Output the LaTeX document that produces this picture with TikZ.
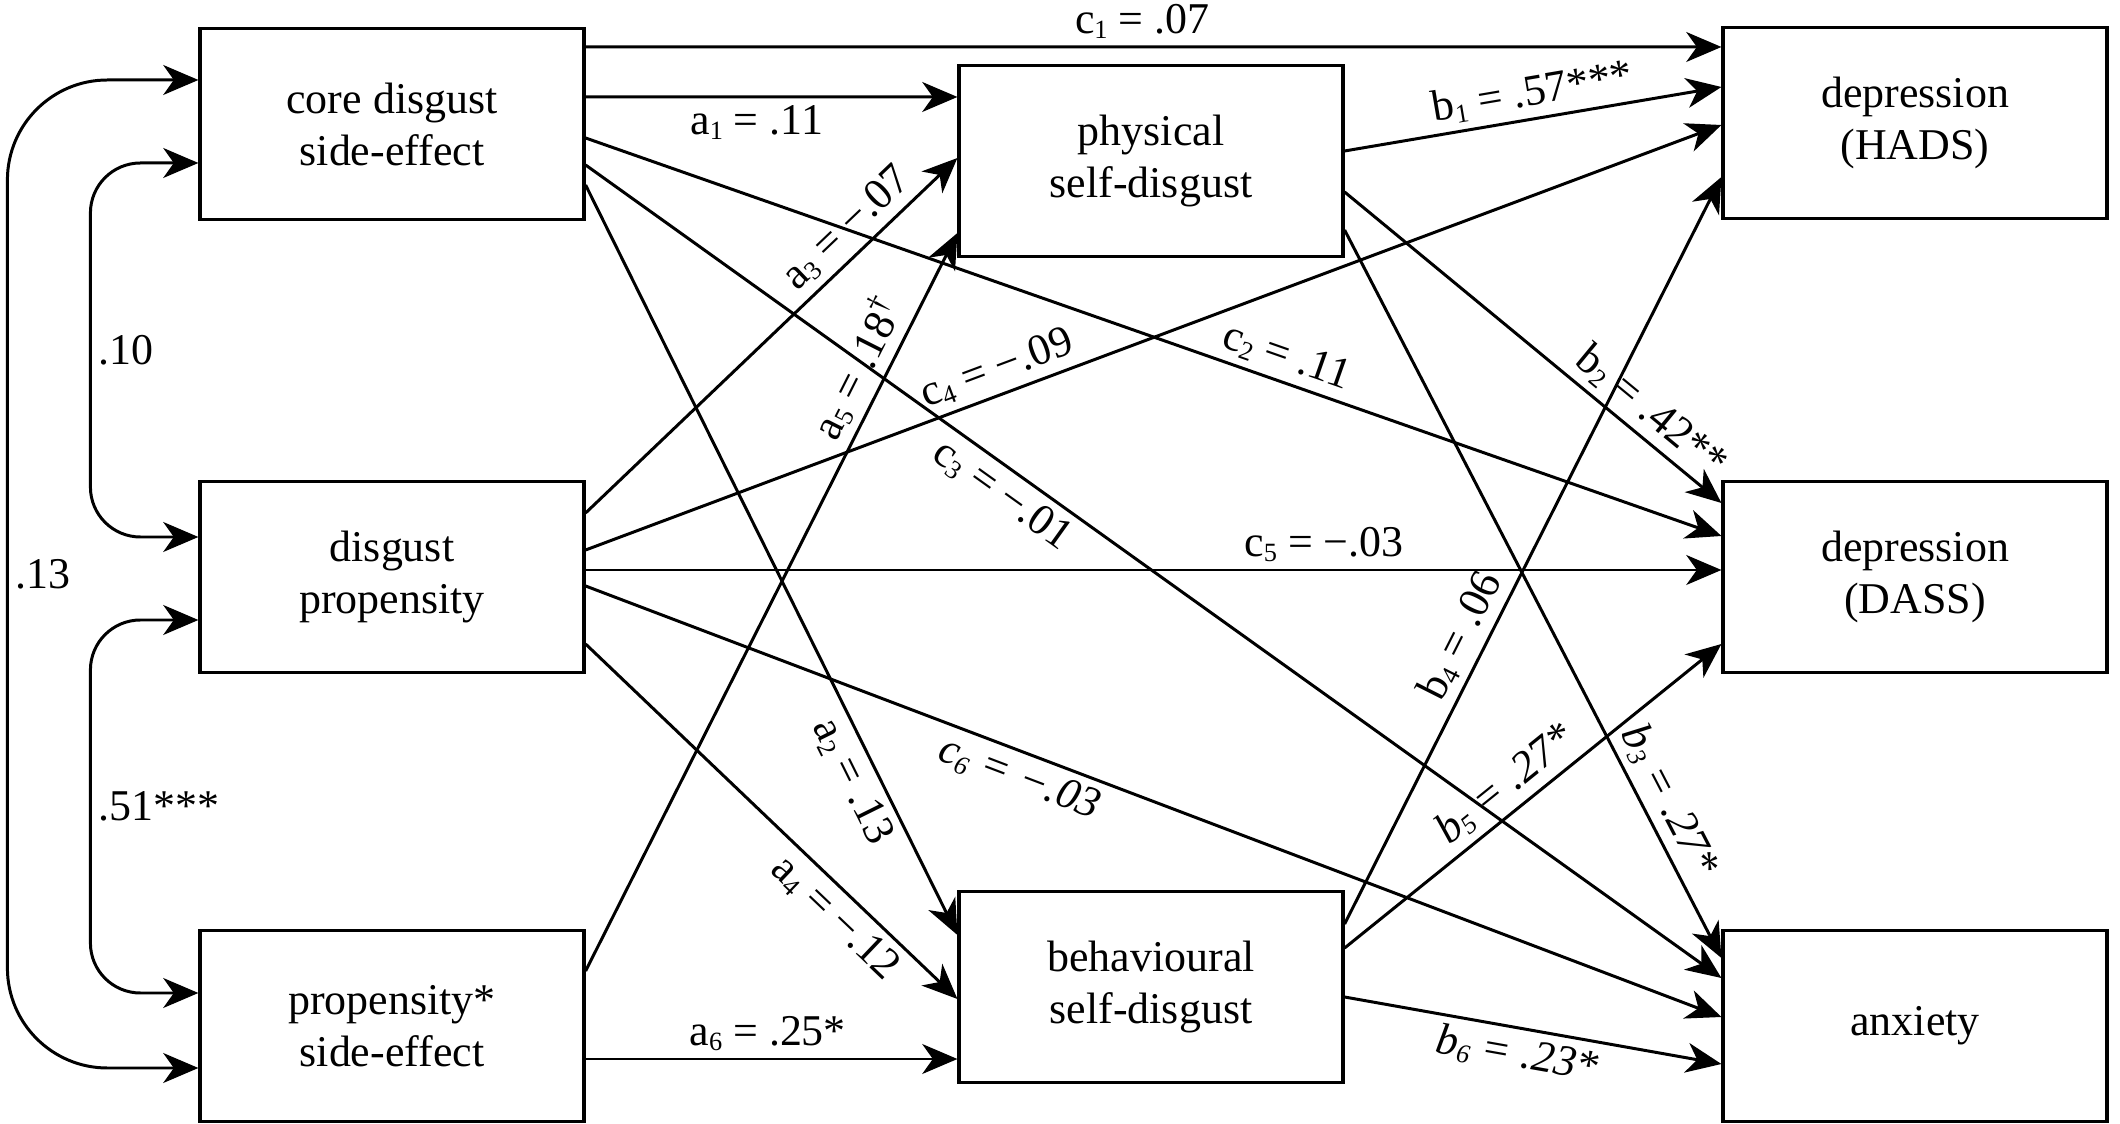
\documentclass[tikz,border=0pt]{standalone}
\usepackage{fontspec}
\setmainfont{Liberation Serif}
\usetikzlibrary{arrows.meta}
\newcommand\sbs[1]{\raisebox{-.25ex}{\fontsize{7.5}{8}\selectfont #1}}

\begin{document}
\begin{tikzpicture}[
    >={Stealth[length=10pt, width=8.5pt, inset=3pt]},
    var/.style={draw, line width=0.9pt, minimum width=3.84cm, minimum height=1.91cm, inner sep=0pt, align=center, font=\fontsize{12.5}{14.8}\selectfont},
    effect/.style={->, line width=0.85pt},
    corr/.style={<->, line width=0.85pt},
    coef/.style={font=\fontsize{12.5}{14}\selectfont, inner sep=2pt},
]
\useasboundingbox (0,0) rectangle (21.2,11.23);

% Predictors
\node[var] (core) at (3.92, 9.99) {core disgust\\side-effect};
\node[var] (prop) at (3.92, 5.46) {disgust\\propensity};
\node[var] (inter) at (3.92, 0.97) {propensity*\\side-effect};

% Mediators
\node[var] (phys) at (11.51, 9.62) {physical\\self-disgust};
\node[var] (behav) at (11.51, 1.36) {behavioural\\self-disgust};

% Outcomes
\node[var] (hads) at (19.15, 10.00) {depression\\(HADS)};
\node[var] (dass) at (19.15, 5.46) {depression\\(DASS)};
\node[var] (anx) at (19.15, 0.97) {anxiety};

% Correlations between predictors
\draw[corr, rounded corners=1cm] ([yshift=.44cm]core.west) -- ++(-1.91,0) |- node[coef, right, pos=.25] (r13) {.13} ([yshift=-.42cm]inter.west);
\draw[corr, rounded corners=.5cm] ([yshift=-.39cm]core.west) -- ++(-1.08,0) |- node[coef, right, pos=.25] (r10) {.10} ([yshift=.40cm]prop.west);
\draw[corr, rounded corners=.5cm] ([yshift=-.43cm]prop.west) -- ++(-1.08,0) |- node[coef, right, pos=.25] (r51) {.51***} ([yshift=.33cm]inter.west);

% Paths from core disgust side-effect
\draw[effect] ([yshift=.77cm]core.east) -- node[coef, above, pos=.49] (lc1) {c\sbs{1} = .07} ([yshift=.76cm]hads.west);
\draw[effect] ([yshift=.27cm]core.east) -- node[coef, below, pos=.46] (la1) {a\sbs{1} = .11} ([yshift=.64cm]phys.west);
\draw[effect] ([yshift=-.14cm]core.east) -- node[coef, sloped, above, pos=.61] (lc2) {c\sbs{2} = .11} ([yshift=.41cm]dass.west);
\draw[effect] ([yshift=-.41cm]core.east) -- node[coef, sloped, below, pos=.38] (lc3) {c\sbs{3} = −.01} ([yshift=.48cm]anx.west);
\draw[effect] ([yshift=-.61cm]core.east) -- node[coef, sloped, below, pos=.78] (la2) {a\sbs{2} = .13} ([yshift=.52cm]behav.west);

% Paths from disgust propensity
\draw[effect] ([yshift=.64cm]prop.east) -- node[coef, sloped, above, pos=.75] (la3) {a\sbs{3} = −.07} ([yshift=.03cm]phys.west);
\draw[effect] ([yshift=.27cm]prop.east) -- node[coef, sloped, above, pos=.37] (lc4) {c\sbs{4} = −.09} ([yshift=-.02cm]hads.west);
\draw[effect] ([yshift=.07cm]prop.east) -- node[coef, above, pos=.65] (lc5) {c\sbs{5} = −.03} ([yshift=.07cm]dass.west);
\draw[effect] ([yshift=-.09cm]prop.east) -- node[coef, sloped, below, pos=.39] (lc6) {\itshape c\sbs{6} = −.03} ([yshift=.09cm]anx.west);
\draw[effect] ([yshift=-.67cm]prop.east) -- node[coef, sloped, below, pos=.72] (la4) {a\sbs{4} = −.12} ([yshift=-.12cm]behav.west);

% Paths from the interaction
\draw[effect] ([yshift=.55cm]inter.east) -- node[coef, sloped, above, pos=.8] (la5) {a\sbs{5} = .18\textsuperscript{\textdagger}} ([yshift=-.72cm]phys.west);
\draw[effect] ([yshift=-.33cm]inter.east) -- node[coef, above, pos=.49] (la6) {a\sbs{6} = .25*} ([yshift=-.72cm]behav.west);

% Paths from the mediators
\draw[effect] ([yshift=.10cm]phys.east) -- node[coef, sloped, above, pos=.51] (lb1) {b\sbs{1} = .57***} ([yshift=.36cm]hads.west);
\draw[effect] ([yshift=-.31cm]phys.east) -- node[coef, sloped, above, pos=.77] (lb2) {b\sbs{2} = .42**} ([yshift=.74cm]dass.west);
\draw[effect] ([yshift=-.69cm]phys.east) -- node[coef, sloped, above, pos=.8] (lb3) {\itshape b\sbs{3} = .27*} ([yshift=.68cm]anx.west);
\draw[effect] ([yshift=.63cm]behav.east) -- node[coef, sloped, above, pos=.37] (lb4) {b\sbs{4} = .06} ([yshift=-.54cm]hads.west);
\draw[effect] ([yshift=.39cm]behav.east) -- node[coef, sloped, above, pos=.47] (lb5) {\itshape b\sbs{5} = .27*} ([yshift=-.67cm]dass.west);
\draw[effect] ([yshift=-.10cm]behav.east) -- node[coef, sloped, below, pos=.47] (lb6) {\itshape b\sbs{6} = .23*} ([yshift=-.38cm]anx.west);

\end{tikzpicture}
\end{document}
